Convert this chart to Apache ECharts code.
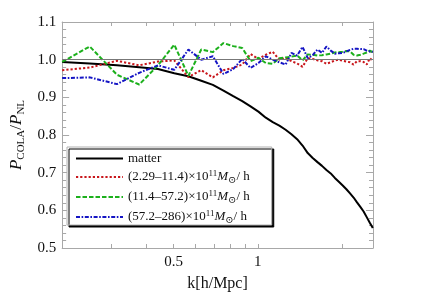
<!DOCTYPE html>
<html><head><meta charset="utf-8">
<script src="https://cdn.jsdelivr.net/npm/echarts@6/dist/echarts.min.js"></script>
<style>html,body{margin:0;padding:0;background:#fff}#c{width:421px;height:300px}</style>
</head><body><div id="c"></div>
<script>
// k values [h/Mpc]
const k = [0.2, 0.251, 0.314, 0.377, 0.440, 0.503, 0.565, 0.628, 0.691, 0.754, 0.817, 0.880, 0.942, 1.005, 1.068, 1.131, 1.194, 1.257, 1.319, 1.382, 1.445, 1.508, 1.571, 1.634, 1.696, 1.759, 1.822, 1.885, 1.948, 2.011, 2.073, 2.136, 2.199, 2.262, 2.325, 2.388, 2.450, 2.513, 2.576];
const matter = [0.994, 0.990, 0.985, 0.980, 0.975, 0.964, 0.956, 0.944, 0.933, 0.918, 0.903, 0.890, 0.876, 0.862, 0.846, 0.834, 0.825, 0.814, 0.802, 0.789, 0.772, 0.752, 0.739, 0.728, 0.718, 0.707, 0.698, 0.686, 0.676, 0.666, 0.656, 0.645, 0.634, 0.621, 0.609, 0.597, 0.582, 0.567, 0.553];
const haloLow = [0.972, 0.979, 0.997, 0.985, 0.995, 0.998, 0.954, 0.972, 0.953, 0.972, 0.978, 0.987, 1.015, 1.002, 1.013, 1.021, 1.000, 1.004, 0.996, 0.990, 0.981, 1.004, 1.002, 0.998, 0.996, 0.989, 0.993, 0.998, 1.000, 0.997, 0.995, 0.993, 0.987, 0.996, 0.996, 0.994, 0.987, 1.004, 0.996];
const haloMid = [0.994, 1.035, 0.960, 0.934, 0.985, 1.040, 0.957, 1.027, 1.020, 1.044, 1.036, 1.031, 0.996, 1.005, 0.991, 0.989, 1.004, 1.006, 1.008, 1.011, 0.998, 1.014, 1.013, 1.011, 1.012, 1.014, 1.016, 1.019, 1.020, 1.021, 1.023, 1.022, 1.013, 1.011, 1.013, 1.016, 1.019, 1.024, 1.020];
const haloHigh = [0.951, 0.953, 0.935, 0.965, 0.985, 0.973, 1.027, 1.000, 1.009, 0.962, 0.975, 1.002, 0.978, 0.991, 1.009, 1.000, 0.993, 0.987, 1.018, 1.011, 1.034, 1.004, 1.012, 1.027, 1.018, 1.035, 1.024, 1.016, 1.017, 1.018, 1.022, 1.026, 1.029, 1.029, 1.028, 1.028, 1.024, 1.022, 1.021];
const massBins = [['2.29', '11.4'], ['11.4', '57.2'], ['57.2', '286']];
const xTickValues = [0.3, 0.4, 0.5, 0.6, 0.7, 0.8, 0.9, 1, 2];
const xLabelValues = [0.5, 1];
const refLevel = 1.0;

const serif = '"Liberation Serif", "DejaVu Serif", serif';
const binNames = massBins.map(b => '(' + b[0] + '–' + b[1] + ')×10^11 M⊙/h');
const binRich = {};
massBins.forEach((b, i) => {
  binRich[binNames[i]] = '{t|(' + b[0] + '–' + b[1] + ')×10}{sup|11}{m|M}{sub|⊙}{t|/ h}';
});
const pairs = arr => k.map((x, i) => [x, arr[i]]);

const chart = echarts.init(document.getElementById('c'), null, {renderer: 'canvas'});
const axisCol = '#a8a8a8';
chart.setOption({
  animation: false,
  backgroundColor: '#fff',
  grid: {left: 54, right: 48, top: 22, bottom: 52},
  xAxis: [{
    type: 'log', min: 0.2, max: 2.58, logBase: 10,
    axisLine: {lineStyle: {color: axisCol, width: 1}},
    axisTick: {inside: true, length: 4, lineStyle: {color: axisCol}, customValues: xTickValues},
    axisLabel: {customValues: xLabelValues, color: '#111', fontFamily: serif, fontSize: 15, margin: 7,
      formatter: v => String(+(+v).toFixed(2))},
    splitLine: {show: false}, minorTick: {show: false},
    name: 'k[h/Mpc]', nameLocation: 'middle', nameGap: 28,
    nameTextStyle: {fontFamily: serif, fontSize: 16, color: '#111'}
  }, {
    type: 'log', min: 0.2, max: 2.58, logBase: 10, position: 'top',
    axisLine: {lineStyle: {color: axisCol, width: 1}},
    axisTick: {inside: true, length: 4, lineStyle: {color: axisCol}, customValues: xTickValues},
    axisLabel: {show: false}, splitLine: {show: false}
  }],
  yAxis: [{
    type: 'value', min: 0.5, max: 1.1, interval: 0.1,
    axisLine: {show: true, lineStyle: {color: axisCol, width: 1}},
    axisTick: {show: true, inside: true, length: 7, lineStyle: {color: axisCol}},
    minorTick: {show: true, splitNumber: 5, length: 4, lineStyle: {color: axisCol}},
    axisLabel: {color: '#111', fontFamily: serif, fontSize: 15, margin: 6, formatter: v => v.toFixed(1)},
    splitLine: {show: false},
    name: '{i|P}{s|COLA}{n|/}{i|P}{s|NL}', nameLocation: 'middle', nameGap: 26, nameRotate: 90,
    nameTextStyle: {fontFamily: serif, color: '#111', rich: {
      i: {fontFamily: serif, fontStyle: 'italic', fontSize: 17, lineHeight: 20, color: '#111'},
      n: {fontFamily: serif, fontSize: 17, lineHeight: 20, color: '#111'},
      s: {fontFamily: serif, fontSize: 11, lineHeight: 11, verticalAlign: 'bottom', color: '#111'}
    }}
  }, {
    type: 'value', min: 0.5, max: 1.1, interval: 0.1, position: 'right',
    axisLine: {show: true, lineStyle: {color: axisCol, width: 1}},
    axisTick: {show: true, inside: true, length: 7, lineStyle: {color: axisCol}},
    minorTick: {show: true, splitNumber: 5, length: 4, lineStyle: {color: axisCol}},
    axisLabel: {show: false}, splitLine: {show: false}
  }],
  legend: {
    orient: 'vertical', left: 67, top: 147,
    padding: [5, 22, 0, 8], itemGap: 4, itemWidth: 47, itemHeight: 16,
    backgroundColor: '#fff', borderColor: '#b0b0b0', borderWidth: 1,
    shadowColor: '#000', shadowBlur: 0, shadowOffsetX: 2, shadowOffsetY: 2,
    itemStyle: {opacity: 0},
    data: ['matter'].concat(binNames),
    formatter: name => binRich[name] || '{t|' + name + '}',
    textStyle: {fontFamily: serif, fontSize: 13, color: '#111', rich: {
      t: {fontFamily: serif, fontSize: 13, lineHeight: 16, color: '#111'},
      m: {fontFamily: serif, fontSize: 13, lineHeight: 16, fontStyle: 'italic', color: '#111'},
      sup: {fontFamily: serif, fontSize: 9, lineHeight: 9, verticalAlign: 'top', color: '#111'},
      sub: {fontFamily: serif, fontSize: 10, lineHeight: 10, verticalAlign: 'bottom', color: '#111'}
    }}
  },
  series: [{
    name: 'matter', type: 'line', data: pairs(matter), showSymbol: false, symbol: 'none',
    lineStyle: {color: '#000', width: 2}, itemStyle: {color: '#000'},
    markLine: {silent: true, symbol: 'none', label: {show: false},
      lineStyle: {color: '#777', width: 1, type: 'solid'}, data: [{yAxis: refLevel}]}
  }, {
    name: binNames[0], type: 'line', data: pairs(haloLow), symbol: 'none',
    lineStyle: {color: '#c8161b', width: 2, type: [2.2, 2]}, itemStyle: {color: '#c8161b'}
  }, {
    name: binNames[1], type: 'line', data: pairs(haloMid), symbol: 'none',
    lineStyle: {color: '#1cb01c', width: 2, type: [4.5, 2]}, itemStyle: {color: '#1cb01c'}
  }, {
    name: binNames[2], type: 'line', data: pairs(haloHigh), symbol: 'none',
    lineStyle: {color: '#1414c4', width: 2, type: [4, 1.6, 1.6, 1.6]}, itemStyle: {color: '#1414c4'}
  }]
});
</script></body></html>
